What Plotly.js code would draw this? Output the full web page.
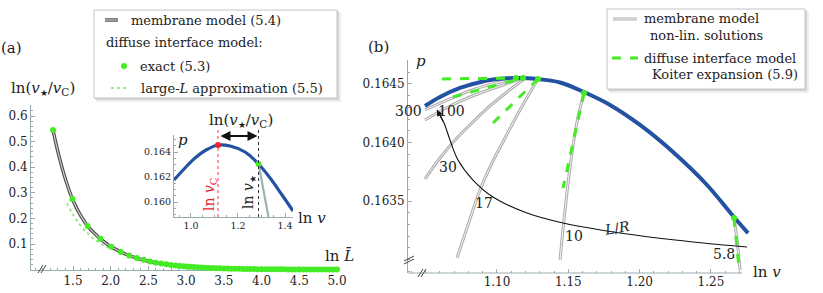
<!DOCTYPE html>
<html><head><meta charset="utf-8">
<script src="https://cdn.plot.ly/plotly-3.0.1.min.js"></script>
<style>html,body{margin:0;padding:0;background:#fff}#chart{width:823px;height:293px}</style>
</head><body><div id="chart"></div>
<script>
// ---------- Panel (a) main: ln(v*/vC) vs ln Lbar ----------
const a_membrane_lnL = [1.235,1.3,1.4,1.5,1.6,1.7,1.8,1.9,2.0,2.2,2.4,2.6,2.8,3.0,3.5,4.0,4.5,5.0];
const a_membrane_val = [0.545,0.46,0.353,0.270,0.212,0.168,0.137,0.111,0.090,0.060,0.040,0.027,0.018,0.012,0.0045,0.0016,0.0006,0.0002];
const a_approx_lnL = [1.42,1.5,1.6,1.7,1.8,1.9,2.0,2.2,2.4,2.6,2.8,3.0,3.5,4.0,4.5,5.0];
const a_approx_val = [0.260,0.215,0.172,0.140,0.114,0.096,0.083,0.058,0.039,0.026,0.017,0.0115,0.0043,0.0016,0.0006,0.0002];
const a_exact_lnL = [1.235,1.491,1.694,1.862,2.007,2.133,2.245,2.346,2.437,2.521,2.598,2.670,2.737,2.800,2.859,2.914,2.967,3.017,
  3.05,3.10,3.15,3.20,3.25,3.30,3.35,3.40,3.45,3.50,3.55,3.60,3.65,3.70,3.75,3.80,3.85,3.90,3.95,4.00,
  4.05,4.10,4.15,4.20,4.25,4.30,4.35,4.40,4.45,4.50,4.55,4.60,4.65,4.70,4.75,4.80,4.85,4.90,4.95,5.00];
const a_exact_val = [0.545,0.276,0.170,0.121,0.089,0.069,0.055,0.045,0.038,0.032,0.027,0.0235,0.0205,0.018,0.016,0.0145,0.013,0.0118,
  0.0110,0.0099,0.0090,0.0081,0.0074,0.0067,0.0060,0.0055,0.0049,0.0045,0.0040,0.0037,0.0033,0.0030,0.0027,0.0025,0.0022,0.0020,0.0018,0.0016,
  0.0015,0.0013,0.0012,0.0011,0.0010,0.0009,0.0008,0.0007,0.0007,0.0006,0.0005,0.0005,0.0004,0.0004,0.0004,0.0003,0.0003,0.0003,0.0003,0.0002];
const a_xticks = [1.5,2.0,2.5,3.0,3.5,4.0,4.5,5.0];
const a_yticks = [0.1,0.2,0.3,0.4,0.5,0.6];

// ---------- Panel (a) inset: p vs ln v ----------
const in_lnv = [0.928,0.9748,1.0174,1.0642,1.1152,1.1663,1.2301,1.2874,1.3365,1.3876,1.4344];
const in_p   = [0.16176,0.16272,0.16352,0.16416,0.16456,0.16448,0.16400,0.16304,0.16192,0.16056,0.15928];
const in_branch_lnv = [1.2874,1.3300];
const in_branch_p   = [0.16304,0.15880];
const in_lnvC = 1.1152, in_pC = 0.16456;
const in_lnvStar = 1.2874, in_pStar = 0.16304;
const in_xticks = [1.0,1.2,1.4];
const in_yticks = [0.160,0.162,0.164];

// ---------- Panel (b): p vs ln v ----------
const b_blue_lnv = [1.04951,1.06003,1.07405,1.08597,1.09719,1.10771,1.11613,1.12665,1.14418,1.16171,1.17924,1.20028,1.22342,1.24727,1.26550,1.27602];
const b_blue_p   = [0.164312,0.164389,0.164466,0.164509,0.164538,0.164550,0.164551,0.164544,0.164513,0.164427,0.164321,0.164150,0.163919,0.163637,0.163372,0.163226];
const b_c300_lnv = [1.04951,1.06704,1.08457,1.10210,1.11332];
const b_c300_p   = [0.164278,0.164372,0.164457,0.164517,0.164551];
const b_c100_lnv = [1.04951,1.06704,1.08457,1.10210,1.11823];
const b_c100_p   = [0.164192,0.164312,0.164406,0.164483,0.164551];
const b_c30_lnv  = [1.04951,1.06003,1.07195,1.08457,1.09509,1.10701,1.11823];
const b_c30_p    = [0.163688,0.163868,0.164038,0.164192,0.164312,0.164432,0.164534];
const b_c17_lnv  = [1.07195,1.07966,1.08808,1.09649,1.10561,1.11613,1.12875];
const b_c17_p    = [0.163013,0.163295,0.163594,0.163825,0.164038,0.164278,0.164543];
const b_c10_lnv  = [1.14418,1.14769,1.15189,1.15610,1.16101];
const b_c10_p    = [0.162996,0.163423,0.163850,0.164175,0.164423];
const b_c58_lnv  = [1.26620,1.26830,1.27041];
const b_c58_p    = [0.163355,0.163167,0.162910];
const b_LR_lnv = [1.27532,1.23745,1.19116,1.14628,1.12104,1.09719,1.08317,1.07265,1.06704,1.06283,1.05792];
const b_LR_p   = [0.163107,0.163150,0.163218,0.163312,0.163397,0.163534,0.163679,0.163850,0.164021,0.164167,0.164278];
const b_koiter = [
  {lnv:[1.06143,1.11332], p:[0.164543,0.164551]},
  {lnv:[1.06914,1.11823], p:[0.164389,0.164551]},
  {lnv:[1.09719,1.12875], p:[0.164167,0.164543]},
  {lnv:[1.16101,1.14628], p:[0.164423,0.163611]},
  {lnv:[1.26620,1.26971], p:[0.163355,0.162927]}
];
const b_dots_lnv = [1.11332,1.11823,1.12875,1.16101,1.26620];
const b_dots_p   = [0.164551,0.164551,0.164543,0.164423,0.163355];
const b_labels = ['300','100','30','17','10','5.8'];
const b_xticks = [1.10,1.15,1.20,1.25];
const b_yticks = [0.1635,0.1640,0.1645];

// ---------- helpers ----------
const W=823,H=293;
const px=v=>v/W, py=v=>1-v/H;
const F='DejaVu Serif';
const AX='#9aabb0';
const GREEN='#45ec25', BLUE='#2452a2';
const STAR='<sub><span style="font-size:9px">★</span></sub>';
const VSTAR='<i>v</i>'+STAR;

function axis(extra){
  return Object.assign({showline:true,linecolor:AX,linewidth:1,ticks:'inside',ticklen:4,tickwidth:1,tickcolor:AX,
    showgrid:false,zeroline:false,tickfont:{family:F,size:12,color:'#222'},layer:'below traces',fixedrange:true,tickmode:'array'},extra);
}
function dbl(x,y,xa,ya,outer,inner,wo,wi){
  return [
    {x:x,y:y,xaxis:xa,yaxis:ya,mode:'lines',line:{color:outer,width:wo,shape:'spline'},hoverinfo:'skip'},
    {x:x,y:y,xaxis:xa,yaxis:ya,mode:'lines',line:{color:inner,width:wi,shape:'spline'},hoverinfo:'skip'}
  ];
}

const traces = [];
// (a) main
traces.push({x:a_approx_lnL,y:a_approx_val,xaxis:'x',yaxis:'y',mode:'lines',line:{color:'#7ee86a',width:1.6,dash:'dot',shape:'spline'}});
traces.push(...dbl(a_membrane_lnL,a_membrane_val,'x','y','#4a4a4a','#d0d0d0',3.4,1.2));
traces.push({x:a_exact_lnL,y:a_exact_val,xaxis:'x',yaxis:'y',mode:'markers',marker:{color:GREEN,size:6},cliponaxis:false});
// inset
traces.push({x:in_branch_lnv,y:in_branch_p,xaxis:'x2',yaxis:'y2',mode:'lines',line:{color:'#9fb0b8',width:2.2}});
traces.push({x:in_lnv,y:in_p,xaxis:'x2',yaxis:'y2',mode:'lines',line:{color:BLUE,width:3.2,shape:'spline'}});
traces.push({x:[in_lnvC],y:[in_pC],xaxis:'x2',yaxis:'y2',mode:'markers',marker:{color:'#e8232b',size:6}});
traces.push({x:[in_lnvStar],y:[in_pStar],xaxis:'x2',yaxis:'y2',mode:'markers',marker:{color:GREEN,size:6}});
// (b)
[[b_c30_lnv,b_c30_p],[b_c17_lnv,b_c17_p],[b_c10_lnv,b_c10_p],[b_c58_lnv,b_c58_p],[b_c100_lnv,b_c100_p],[b_c300_lnv,b_c300_p]].forEach(c=>{
  traces.push(...dbl(c[0],c[1],'x3','y3','#adadad','#f4f4f4',3,1));
});
traces.push({x:b_LR_lnv,y:b_LR_p,xaxis:'x3',yaxis:'y3',mode:'lines',line:{color:'#111',width:1.1,shape:'spline'}});
traces.push({x:b_blue_lnv,y:b_blue_p,xaxis:'x3',yaxis:'y3',mode:'lines',line:{color:BLUE,width:4,shape:'spline'}});
b_koiter.forEach(k=>traces.push({x:k.lnv,y:k.p,xaxis:'x3',yaxis:'y3',mode:'lines',line:{color:GREEN,width:3,dash:'dash'}}));
traces.push({x:b_dots_lnv,y:b_dots_p,xaxis:'x3',yaxis:'y3',mode:'markers',marker:{color:GREEN,size:6}});

const shapes = [];
const ann = [];
function T(text,x,y,o){ann.push(Object.assign({text:text,x:px(x),y:py(y),xref:'paper',yref:'paper',showarrow:false,
  font:{family:F,size:13,color:'#222'},xanchor:'center',yanchor:'middle'},o||{}));}
function L(x0,y0,x1,y1,o){shapes.push(Object.assign({type:'line',xref:'paper',yref:'paper',x0:px(x0),y0:py(y0),x1:px(x1),y1:py(y1),line:{color:'#222',width:1}},o||{}));}
function box(x0,y0,x1,y1){
  shapes.push({type:'rect',xref:'paper',yref:'paper',x0:px(x0+2),y0:py(y1+4),x1:px(x1+4),y1:py(y0+2),line:{width:0},fillcolor:'rgba(0,0,0,0.07)',layer:'below'});
  shapes.push({type:'rect',xref:'paper',yref:'paper',x0:px(x0+1),y0:py(y1+2),x1:px(x1+2),y1:py(y0+1),line:{width:0},fillcolor:'rgba(0,0,0,0.10)',layer:'below'});
  shapes.push({type:'rect',xref:'paper',yref:'paper',x0:px(x0),y0:py(y1),x1:px(x1),y1:py(y0),line:{color:'#c4c4c4',width:1},fillcolor:'#fff',layer:'above'});
}

// legend (a)
box(94,10,337,98);
L(105,20,118,20,{line:{color:'#4a4a4a',width:3.4}}); L(105,20,118,20,{line:{color:'#d0d0d0',width:1.2}});
T('membrane model (5.4)',129,20,{xanchor:'left'});
T('diffuse interface model:',104,43,{xanchor:'left'});
shapes.push({type:'circle',xref:'paper',yref:'paper',x0:px(121),x1:px(127),y0:py(69),y1:py(63),fillcolor:GREEN,line:{width:0}});
T('exact (5.3)',138,66,{xanchor:'left'});
L(111,88,128,88,{line:{color:'#7ee86a',width:1.6,dash:'dot'}});
T('large-<i>L</i> approximation (5.5)',139,88,{xanchor:'left'});
// legend (b)
box(607,9,805,89);
L(613,19,637,19,{line:{color:'#adadad',width:3}}); L(613,19,637,19,{line:{color:'#f4f4f4',width:1}});
T('membrane model',642,19,{xanchor:'left'});
T('non-lin. solutions',648,35,{xanchor:'left'});
L(612,58,638,58,{line:{color:GREEN,width:3,dash:'dash'}});
T('diffuse interface model',642,58,{xanchor:'left'});
T('Koiter expansion (5.9)',800,74,{xanchor:'right'});

// panel (a) labels
T('(a)',11,48,{font:{family:F,size:15,color:'#222'}});
T('ln('+VSTAR+'/<i>v</i><sub>C</sub>)',43,88,{font:{family:F,size:15,color:'#222'}});
T('ln <i>L̄</i>',339,256,{font:{family:F,size:15,color:'#222'}});
// axis break (a)
L(38,273,43,265,{line:{color:'#444',width:1}}); L(41,273,46,265,{line:{color:'#444',width:1}});
// inset labels
T('<i>p</i>',183,140,{font:{family:F,size:15,color:'#222'}});
T('ln('+VSTAR+'/<i>v</i><sub>C</sub>)',241,120,{font:{family:F,size:15,color:'#222'}});
T('ln <i>v</i><sub>C</sub>',210,195,{textangle:-90,font:{family:F,size:14,color:'#e8232b'}});
T('ln '+VSTAR,249,192,{textangle:-90,font:{family:F,size:14,color:'#222'}});
T('ln <i>v</i>',312,218,{font:{family:F,size:15,color:'#222'}});
shapes.push({type:'line',xref:'x2',yref:'paper',x0:in_lnvC,x1:in_lnvC,y0:py(217),y1:py(127),line:{color:'#ff3b3b',width:1,dash:'dot'}});
shapes.push({type:'line',xref:'x2',yref:'paper',x0:in_lnvStar,x1:in_lnvStar,y0:py(217),y1:py(127),line:{color:'#333',width:1,dash:'dot'}});
ann.push({xref:'x2',yref:'paper',x:in_lnvStar,y:py(136),axref:'x2',ayref:'pixel',ax:in_lnvC,ay:0,text:'',showarrow:true,
  arrowhead:2,arrowside:'end+start',arrowsize:1,arrowwidth:2,arrowcolor:'#111',standoff:1,startstandoff:1});
// panel (b) labels
T('(b)',378,47,{font:{family:F,size:15,color:'#222'}});
T('<i>p</i>',421,61,{font:{family:F,size:15,color:'#222'}});
T(b_labels[0],408,111,{font:{family:F,size:14,color:'#222'}});
T(b_labels[1],451,111,{font:{family:F,size:14,color:'#222'}});
T(b_labels[2],448,167,{font:{family:F,size:14,color:'#222'}});
T(b_labels[3],484,203,{font:{family:F,size:14,color:'#222'}});
T(b_labels[4],574,236,{font:{family:F,size:14,color:'#222'}});
T(b_labels[5],724,254,{font:{family:F,size:14,color:'#222'}});
T('<i>L</i>/<i>R</i>',617,228,{textangle:-9,font:{family:F,size:14,color:'#222'}});
T('ln <i>v</i>',767,272,{font:{family:F,size:15,color:'#222'}});
ann.push({xref:'x3',yref:'y3',x:b_LR_lnv[b_LR_lnv.length-1],y:b_LR_p[b_LR_p.length-1],axref:'x3',ayref:'y3',
  ax:b_LR_lnv[b_LR_lnv.length-2],ay:b_LR_p[b_LR_p.length-2],text:'',showarrow:true,arrowhead:2,arrowsize:1.1,arrowwidth:1.1,arrowcolor:'#111'});
// x axis line (b) and break marks
L(408,273,742,273,{line:{color:AX,width:1}});
L(404,264,414,259,{line:{color:'#444',width:1}}); L(404,261,414,256,{line:{color:'#444',width:1}});
L(418,277,423,269,{line:{color:'#444',width:1}}); L(421,277,426,269,{line:{color:'#444',width:1}});

const layout = {
  width:W,height:H,margin:{l:0,r:0,t:0,b:0},paper_bgcolor:'#fff',plot_bgcolor:'rgba(0,0,0,0)',showlegend:false,
  xaxis: axis({domain:[px(31),px(337)],range:[0.943,5.0],anchor:'y',tickvals:a_xticks,ticktext:a_xticks.map(v=>v.toFixed(1)),
    minor:{tickmode:'linear',tick0:0,dtick:0.1,ticks:'inside',ticklen:2,tickcolor:AX,showgrid:false}}),
  yaxis: axis({domain:[py(269.6),py(105)],range:[0,0.643],anchor:'x',tickvals:a_yticks,ticktext:a_yticks.map(v=>v.toFixed(1)),
    minor:{tickmode:'linear',tick0:0,dtick:0.02,ticks:'inside',ticklen:2,tickcolor:AX,showgrid:false}}),
  xaxis2: axis({domain:[px(174),px(293)],range:[0.928,1.434],anchor:'y2',tickvals:in_xticks,ticktext:in_xticks.map(v=>v.toFixed(1)),
    tickfont:{family:F,size:9.5,color:'#222'},minor:{tickmode:'linear',tick0:0,dtick:0.05,ticks:'inside',ticklen:2,tickcolor:AX}}),
  yaxis2: axis({domain:[py(217),py(135)],range:[0.1588,0.16536],anchor:'x2',tickvals:in_yticks,ticktext:in_yticks.map(v=>v.toFixed(3)),
    tickfont:{family:F,size:9.5,color:'#222'},minor:{tickmode:'linear',tick0:0,dtick:0.0005,ticks:'inside',ticklen:2,tickcolor:AX}}),
  xaxis3: axis({domain:[px(408),px(750)],range:[1.0376,1.2774],anchor:'y3',showline:false,tickvals:b_xticks,ticktext:b_xticks.map(v=>v.toFixed(2)),
    minor:{tickmode:'linear',tick0:0,dtick:0.01,ticks:'inside',ticklen:2,tickcolor:AX}}),
  yaxis3: axis({domain:[py(273),py(60)],range:[0.162885,0.164705],anchor:'x3',tickvals:b_yticks,ticktext:b_yticks.map(v=>v.toFixed(4)),
    minor:{tickmode:'linear',tick0:0,dtick:0.0001,ticks:'inside',ticklen:2,tickcolor:AX}}),
  shapes:shapes, annotations:ann
};
Plotly.newPlot('chart',traces,layout,{displayModeBar:false,staticPlot:true});
</script></body></html>
